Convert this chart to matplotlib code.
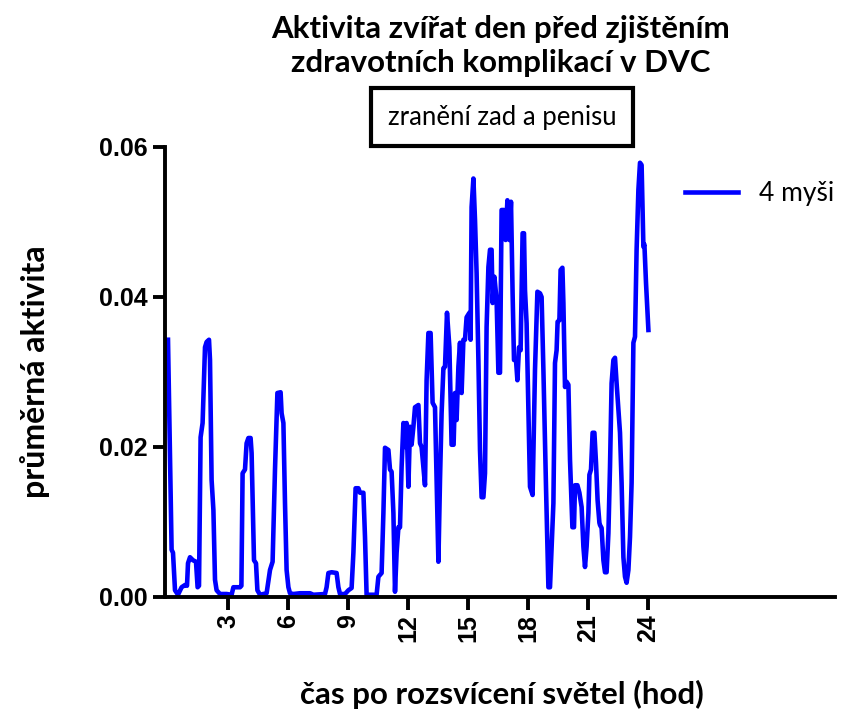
"""
Activity of animals the day before health complications were found.
"""

import matplotlib
matplotlib.use("Agg")
import matplotlib.pyplot as plt

# hours after lights on
hours = [
    0.0, 0.1, 0.18, 0.25, 0.35, 0.5, 0.68, 0.85, 0.95, 1.0, 1.1, 1.25, 1.4, 1.48, 1.55,
    1.63, 1.73, 1.8, 1.85, 1.93, 2.05, 2.1, 2.18, 2.27, 2.35, 2.43, 2.6, 2.93, 3.18, 3.27,
    3.6, 3.67, 3.73, 3.85, 3.93, 4.02, 4.13, 4.18, 4.3, 4.4, 4.47, 4.6, 4.93, 5.1, 5.23,
    5.35, 5.47, 5.63, 5.68, 5.77, 5.85, 5.93, 6.02, 6.1, 6.27, 6.6, 7.1, 7.27, 7.85, 7.93,
    8.02, 8.18, 8.43, 8.52, 8.6, 8.85, 9.02, 9.18, 9.27, 9.38, 9.52, 9.6, 9.77, 9.85, 9.93,
    10.43, 10.52, 10.68, 10.77, 10.85, 11.02, 11.1, 11.18, 11.27, 11.35, 11.43, 11.52, 11.6,
    11.68, 11.77, 11.85, 11.93, 12.02, 12.1, 12.18, 12.27, 12.35, 12.52, 12.6, 12.68, 12.77,
    12.85, 12.93, 13.02, 13.13, 13.23, 13.35, 13.43, 13.52, 13.6, 13.68, 13.77, 13.85, 13.95,
    14.07, 14.18, 14.28, 14.35, 14.43, 14.52, 14.6, 14.68, 14.77, 14.85, 14.93, 15.07, 15.13,
    15.18, 15.27, 15.35, 15.43, 15.52, 15.6, 15.68, 15.77, 15.85, 15.93, 16.02, 16.1, 16.18,
    16.23, 16.32, 16.43, 16.52, 16.6, 16.68, 16.8, 16.88, 16.97, 17.07, 17.15, 17.23, 17.3,
    17.4, 17.47, 17.55, 17.63, 17.73, 17.8, 17.85, 17.93, 18.1, 18.23, 18.35, 18.47, 18.6,
    18.68, 18.77, 18.9, 19.02, 19.1, 19.18, 19.27, 19.35, 19.43, 19.48, 19.57, 19.63, 19.72,
    19.77, 19.85, 19.93, 20.02, 20.1, 20.22, 20.3, 20.35, 20.47, 20.57, 20.68, 20.77, 20.85,
    20.93, 21.02, 21.07, 21.15, 21.23, 21.32, 21.4, 21.48, 21.57, 21.6, 21.68, 21.77, 21.85,
    21.93, 22.02, 22.1, 22.18, 22.27, 22.35, 22.43, 22.6, 22.68, 22.77, 22.85, 22.93, 23.02,
    23.1, 23.18, 23.27, 23.35, 23.43, 23.52, 23.6, 23.68, 23.77, 23.82, 23.9, 24.02,
]

# mean activity of 4 mice
activity = [
    0.0343, 0.019, 0.0063, 0.0059, 0.0009, 0.0003, 0.0013, 0.0016, 0.0015, 0.0045, 0.0053,
    0.0049, 0.0047, 0.0013, 0.0015, 0.0213, 0.0232, 0.029, 0.0333, 0.034, 0.0343, 0.0316,
    0.0156, 0.0116, 0.0023, 0.0009, 0.0004, 0.0004, 0.0003, 0.0013, 0.0013, 0.0015, 0.0165,
    0.017, 0.0205, 0.0212, 0.0212, 0.0192, 0.0049, 0.0045, 0.0009, 0.0003, 0.0005, 0.0036,
    0.0047, 0.017, 0.0272, 0.0273, 0.0245, 0.0232, 0.0125, 0.0036, 0.0013, 0.0005, 0.0004,
    0.0005, 0.0005, 0.0003, 0.0004, 0.0013, 0.0032, 0.0033, 0.0032, 0.0013, 0.0004, 0.0004,
    0.0009, 0.0012, 0.0059, 0.0145, 0.0145, 0.0139, 0.0139, 0.008, 0.0003, 0.0003, 0.0027,
    0.0032, 0.0112, 0.0199, 0.0196, 0.017, 0.0167, 0.0112, 0.0007, 0.0059, 0.0093, 0.0093,
    0.0173, 0.0232, 0.02, 0.0232, 0.0147, 0.0227, 0.0203, 0.0227, 0.0253, 0.0256, 0.0205,
    0.02, 0.0173, 0.0149, 0.0289, 0.0352, 0.0352, 0.0259, 0.0253, 0.0156, 0.0047, 0.0156,
    0.0245, 0.0305, 0.0307, 0.0379, 0.0333, 0.0203, 0.0203, 0.0272, 0.0236, 0.0307, 0.0339,
    0.0272, 0.0343, 0.0343, 0.0373, 0.0379, 0.0343, 0.052, 0.0558, 0.0503, 0.0432, 0.0316,
    0.0196, 0.0133, 0.0133, 0.0165, 0.036, 0.044, 0.0463, 0.0463, 0.0392, 0.0427, 0.0396,
    0.0299, 0.0299, 0.0516, 0.0516, 0.0476, 0.0529, 0.0476, 0.0527, 0.0405, 0.0316, 0.0316,
    0.0289, 0.0333, 0.0329, 0.0485, 0.0485, 0.0409, 0.0365, 0.0147, 0.0136, 0.0303, 0.0407,
    0.0405, 0.04, 0.0303, 0.0147, 0.0013, 0.0013, 0.0067, 0.0125, 0.0312, 0.0329, 0.0367,
    0.0369, 0.0436, 0.0439, 0.0392, 0.028, 0.0287, 0.0283, 0.0183, 0.0093, 0.0093, 0.0149,
    0.0149, 0.0139, 0.012, 0.0067, 0.004, 0.0067, 0.0112, 0.0163, 0.017, 0.0219, 0.0219,
    0.0179, 0.0129, 0.0099, 0.0096, 0.0092, 0.0049, 0.0033, 0.0033, 0.0085, 0.0173, 0.0285,
    0.0316, 0.0319, 0.0285, 0.0219, 0.0152, 0.0053, 0.0027, 0.0019, 0.0036, 0.008, 0.0152,
    0.0339, 0.0347, 0.0463, 0.0543, 0.0579, 0.0576, 0.0467, 0.047, 0.0419, 0.0356,
]

x_ticks = [3, 6, 9, 12, 15, 18, 21, 24]
y_ticks = [0.0, 0.02, 0.04, 0.06]
y_tick_labels = ["0.00", "0.02", "0.04", "0.06"]

title = "Aktivita zvířat den před zjištěním\nzdravotních komplikací v DVC"
subtitle = "zranění zad a penisu"
series_label = "4 myši"

label_font = ["Lato", "DejaVu Sans"]
tick_font = ["Liberation Sans", "DejaVu Sans"]

fig = plt.figure(figsize=(8.44, 7.15), dpi=100)
ax = fig.add_axes([165 / 844, 118 / 715, 670 / 844, 450 / 715])

ax.plot(hours, activity, color="#0000ff", lw=3.3, label=series_label, clip_on=False)

ax.set_xlim(-0.15, 33.35)
ax.set_ylim(0, 0.06)

# Prism-like axes
for side in ["top", "right"]:
    ax.spines[side].set_visible(False)
for side in ["left", "bottom"]:
    ax.spines[side].set_linewidth(2.8)
ax.tick_params(width=2.8, length=9, direction="out")

ax.set_xticks(x_ticks)
ax.set_xticklabels([str(t) for t in x_ticks], rotation=90, fontsize=18,
                   fontweight="bold", family=tick_font)
ax.set_yticks(y_ticks)
ax.set_yticklabels(y_tick_labels, fontsize=18, fontweight="bold", family=tick_font)

fig.text(35 / 844, 1 - 372 / 715, "průměrná aktivita", ha="center", va="center",
         rotation=90, fontsize=23, fontweight="bold", family=label_font)
fig.text(502 / 844, 1 - 694 / 715, "čas po rozsvícení světel (hod)", ha="center",
         va="center", fontsize=22.5, fontweight="bold", family=label_font)

fig.text(501 / 844, 1 - 46 / 715, title, ha="center", va="center", fontsize=22.5,
         fontweight="bold", family=label_font, linespacing=1.25)
fig.text(502 / 844, 1 - 117 / 715, subtitle, ha="center", va="center", fontsize=18.5,
         family=label_font,
         bbox=dict(boxstyle="square,pad=0.65", facecolor="white", edgecolor="black", lw=3))

leg = ax.legend(loc="upper left", bbox_to_anchor=(0.776, 0.925), frameon=False,
                borderpad=0, borderaxespad=0, handlelength=2.0, handletextpad=0.8,
                prop={"family": label_font, "size": 19})

fig.savefig("out.png", dpi=100)
